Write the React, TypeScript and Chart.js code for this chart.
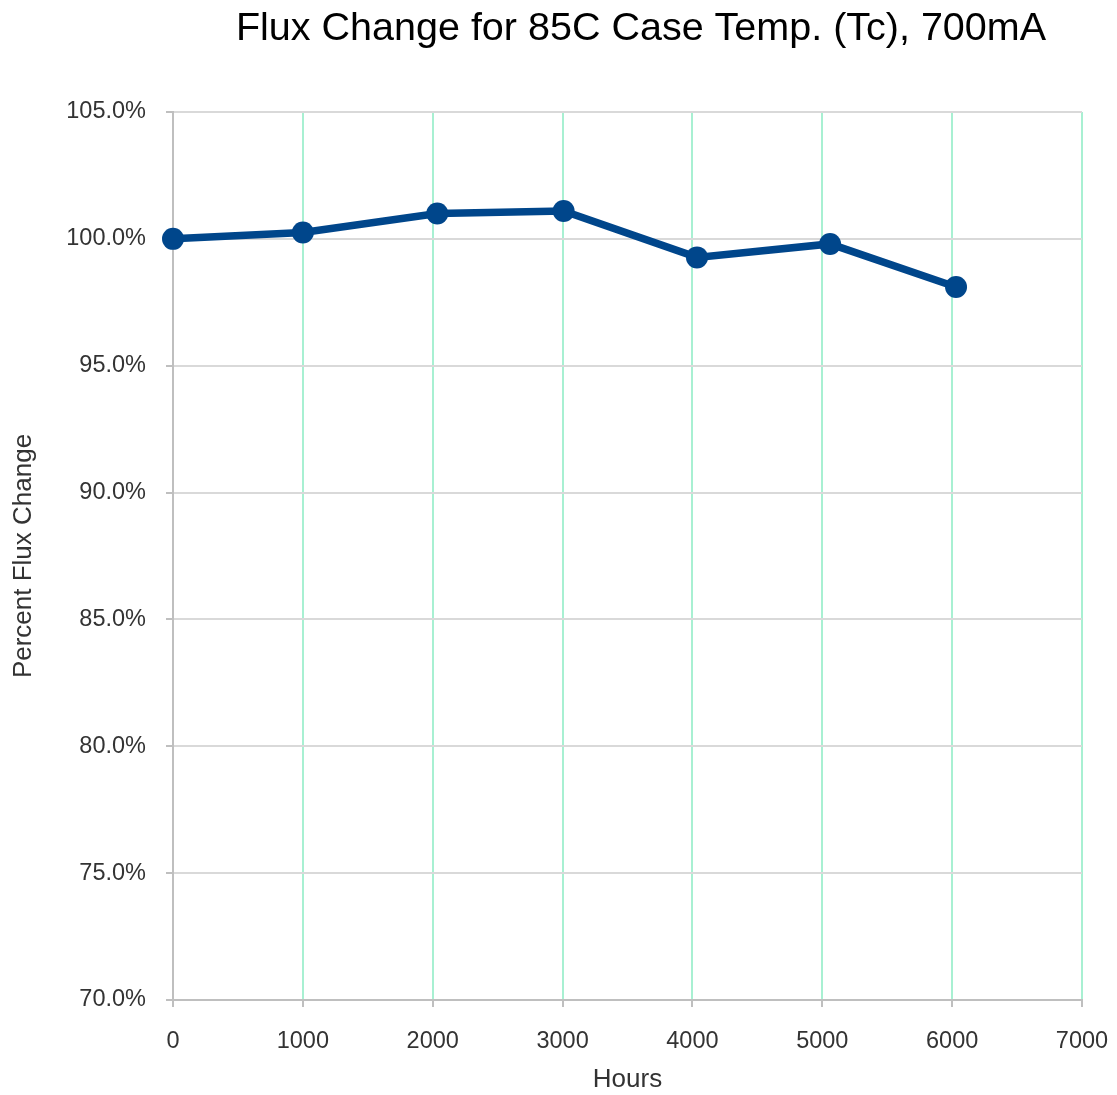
import React, { useEffect, useRef } from "react";
import { Chart, registerables } from "chart.js";

Chart.register(...registerables);

const TITLE = "Flux Change for 85C Case Temp. (Tc), 700mA";
const X_TITLE = "Hours";
const Y_TITLE = "Percent Flux Change";
const hours = [0, 1000, 2035, 3008, 4035, 5060, 6030];
const fluxPct = [100.0, 100.25, 101.0, 101.1, 99.27, 99.8, 98.1];
const yMin = 70;
const yMax = 105;
const yStep = 5;
const xMin = 0;
const xMax = 7000;
const xStep = 1000;

const FONT = "'Liberation Sans', Arial, sans-serif";

const titlePlugin = {
  id: "customTitle",
  afterDraw(chart: any) {
    const ctx = chart.ctx;
    ctx.save();
    ctx.font = `39.5px ${FONT}`;
    ctx.fillStyle = "#000000";
    ctx.textAlign = "center";
    ctx.textBaseline = "middle";
    ctx.fillText(TITLE, 641, 29);
    ctx.restore();
  },
};

export default function App() {
  const ref = useRef<HTMLCanvasElement | null>(null);
  useEffect(() => {
    if (!ref.current) return;
    const chart = new Chart(ref.current, {
      type: "line",
      data: {
        datasets: [
          {
            data: hours.map((h, i) => ({ x: h, y: fluxPct[i] })),
            borderColor: "#00468b",
            backgroundColor: "#00468b",
            borderWidth: 7.5,
            pointRadius: 11,
            pointHoverRadius: 11,
            pointBorderWidth: 0,
            tension: 0,
            clip: false,
          },
        ],
      },
      options: {
        animation: false,
        responsive: false,
        maintainAspectRatio: false,
        layout: { padding: { top: 112, right: 35, left: 0, bottom: 0 } },
        plugins: {
          legend: { display: false },
          tooltip: { enabled: false },
          title: { display: false },
        },
        scales: {
          x: {
            type: "linear",
            min: xMin,
            max: xMax,
            ticks: {
              stepSize: xStep,
              color: "#333333",
              font: { family: FONT, size: 23.5 },
              padding: 20,
              maxRotation: 0,
              callback: (v: any) => String(v),
            },
            grid: {
              color: (c: any) => (c.tick && c.tick.value === 0 ? "#bfbfbf" : "#a8f0d2"),
              lineWidth: 2,
              tickColor: "#bfbfbf",
              tickLength: 7,
            },
            border: { color: "#bfbfbf", width: 2 },
            title: {
              display: true,
              text: X_TITLE,
              color: "#333333",
              font: { family: FONT, size: 26 },
              padding: { top: 0, bottom: 0 },
            },
            afterFit: (s: any) => {
              s.height = 95;
              s.paddingLeft = 0;
              s.paddingRight = 0;
            },
          },
          y: {
            type: "linear",
            min: yMin,
            max: yMax,
            ticks: {
              stepSize: yStep,
              color: "#333333",
              font: { family: FONT, size: 23.5 },
              padding: 20,
              callback: (v: any) => Number(v).toFixed(1) + "%",
            },
            grid: {
              color: "#d9d9d9",
              lineWidth: 2,
              tickColor: "#bfbfbf",
              tickLength: 7,
            },
            border: { color: "#bfbfbf", width: 2 },
            title: {
              display: true,
              text: Y_TITLE,
              color: "#333333",
              font: { family: FONT, size: 26 },
              padding: { top: 8, bottom: 0 },
            },
            afterFit: (s: any) => {
              s.width = 173;
              s.paddingTop = 0;
              s.paddingBottom = 0;
            },
          },
        },
      },
      plugins: [titlePlugin],
    });
    return () => chart.destroy();
  }, []);
  return (
    <div style={{ position: "absolute", left: 0, top: 0, width: 1117, height: 1095, background: "#ffffff" }}>
      <canvas ref={ref} width={1117} height={1095} style={{ display: "block" }} />
    </div>
  );
}
